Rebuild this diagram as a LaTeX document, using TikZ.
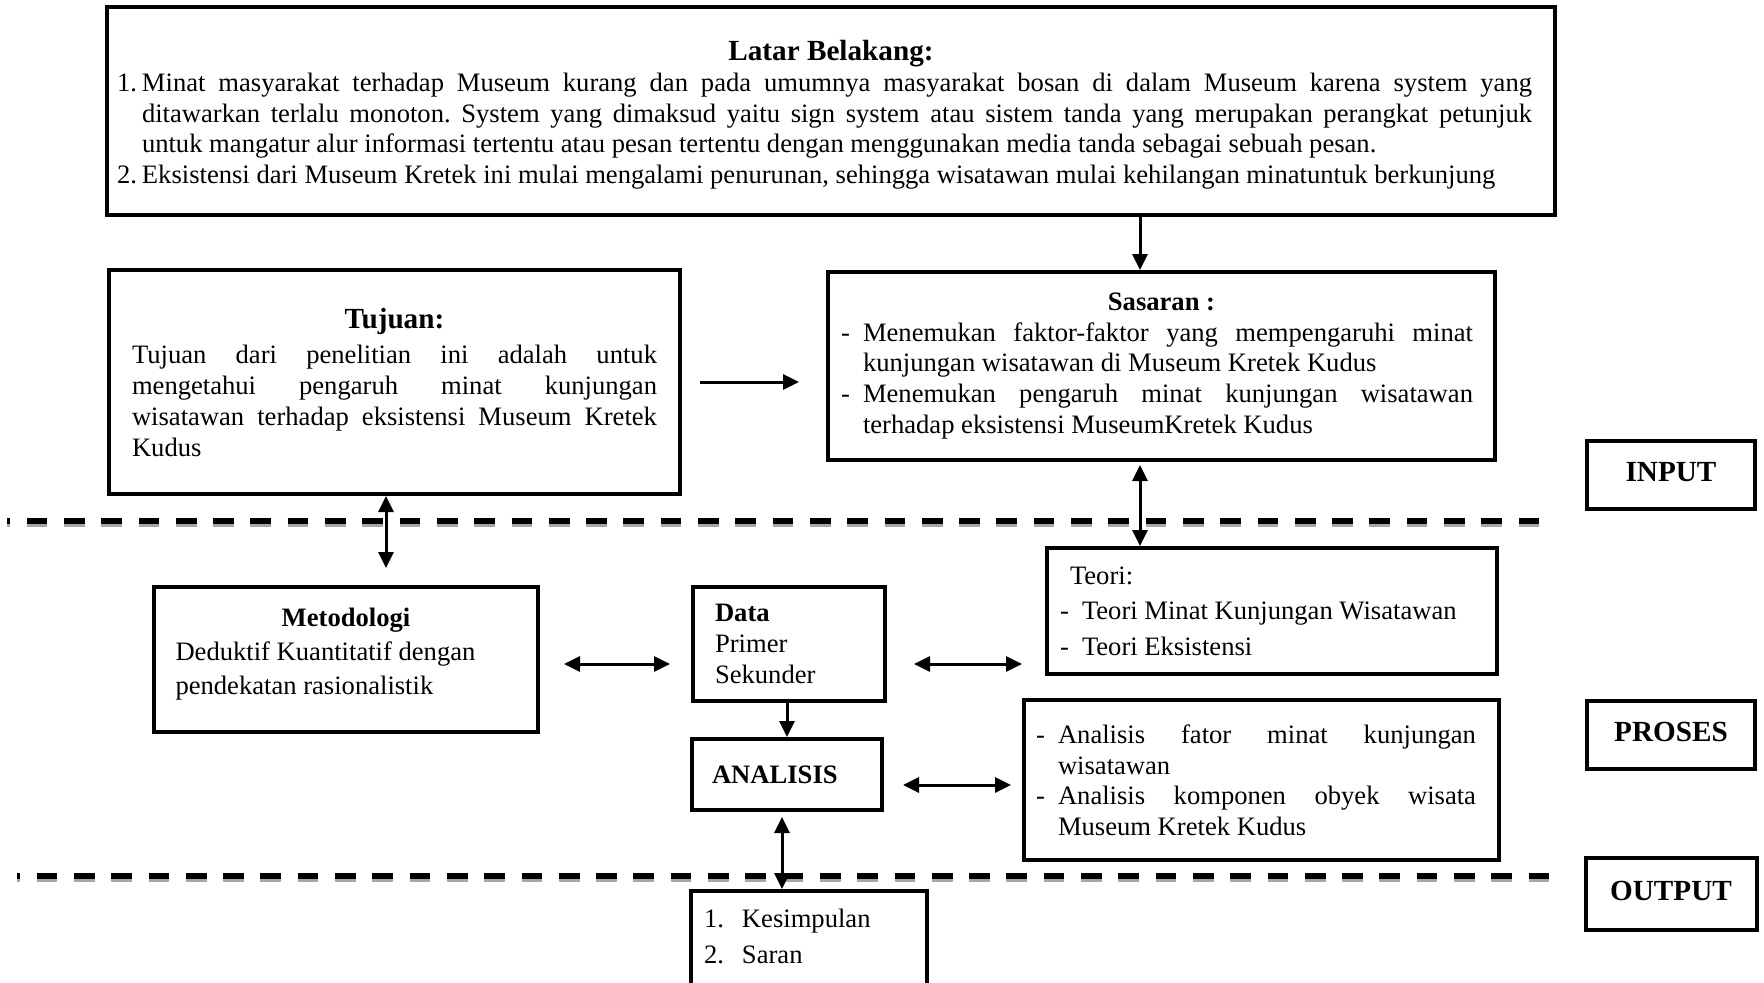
\documentclass[tikz,border=0pt]{standalone}
\usepackage{fontspec}
\setmainfont{Liberation Serif}
\usetikzlibrary{positioning,arrows.meta}

\frenchspacing
\hyphenpenalty=10000
\exhyphenpenalty=10000
\tolerance=9999
\hbadness=10000
\emergencystretch=20pt
\newcommand{\itm}[2]{\par\hangindent=#1\hangafter=1\makebox[#1][l]{#2}\ignorespaces}
\newcommand{\hd}[1]{{\centering\bfseries #1\par}}

\tikzset{
  box/.style={draw, line width=2pt, inner sep=0pt, align=justify, font=\fontsize{13.3pt}{15.35pt}\selectfont},
  tag/.style={draw, line width=2pt, minimum width=84pt, minimum height=34pt, text depth=3pt, font=\bfseries\fontsize{14.6pt}{17pt}\selectfont},
  arr/.style={-{Triangle[length=8pt,width=7.5pt]}, line width=1.5pt},
  dbl/.style={{Triangle[length=8pt,width=7.5pt]}-{Triangle[length=8pt,width=7.5pt]}, line width=1.5pt},
  sep/.style={line width=3pt, dash pattern=on 10.35pt off 8.3pt, dash phase=8.85pt},
  sepshadow/.style={sep, draw=black!35},
}

\begin{document}
\begin{tikzpicture}[x=0.5pt, y=-0.5pt]
  \useasboundingbox (0,0) rectangle (1764,982);
  \clip (0,0) rectangle (1764,982);

  \draw[sepshadow] (7,524.3) -- (1541,524.3);
  \draw[sep] (7,521.3) -- (1541,521.3);
  \draw[sepshadow] (17,878.5) -- (1549,878.5);
  \draw[sep] (17,875.5) -- (1549,875.5);

  \node[box, minimum width=724pt, minimum height=104pt, text width=714pt] (latar) at (831,111) {%
    \rightskip=6.5pt
    {\centering\bfseries\fontsize{14.6pt}{15.35pt}\selectfont Latar Belakang:\par}
    \itm{12.5pt}{1.}Minat masyarakat terhadap Museum kurang dan pada umumnya masyarakat bosan di dalam Museum karena system yang\linebreak
    ditawarkan terlalu monoton. System yang dimaksud yaitu sign system atau sistem tanda yang merupakan perangkat petunjuk\linebreak
    untuk mangatur alur informasi tertentu atau pesan tertentu dengan menggunakan media tanda sebagai sebuah pesan.
    \itm{12.5pt}{2.}Eksistensi dari Museum Kretek ini mulai mengalami penurunan, sehingga wisatawan mulai kehilangan minatuntuk berkunjung\par\kern-4pt};

  \node[box, minimum width=285.5pt, minimum height=112pt, text width=262.5pt] (tujuan) at (394.5,382) {%
    {\centering\bfseries\fontsize{14.6pt}{15.35pt}\selectfont Tujuan:\par}\vspace{2.6pt}
    Tujuan dari penelitian ini adalah untuk\linebreak
    mengetahui pengaruh minat kunjungan\linebreak
    wisatawan terhadap eksistensi Museum Kretek\linebreak
    Kudus\par};

  \node[box, minimum width=333.5pt, minimum height=94pt, text width=320.5pt] (sasaran) at (1161.5,366) {%
    \rightskip=4.5pt
    \hd{Sasaran :}
    \itm{11pt}{-}Menemukan faktor-faktor yang mempengaruhi minat\linebreak
    kunjungan wisatawan di Museum Kretek Kudus
    \itm{11pt}{-}Menemukan pengaruh minat kunjungan wisatawan\linebreak
    terhadap eksistensi MuseumKretek Kudus\par};

  \node[box, minimum width=192pt, minimum height=72.5pt, text width=170.5pt,
        font=\fontsize{13.3pt}{17pt}\selectfont] (metod) at (346,659.5) {%
    \hd{Metodologi}
    Deduktif Kuantitatif dengan\newline
    pendekatan rasionalistik\par\kern5.6pt};

  \node[box, minimum width=96pt, minimum height=57pt, text width=74pt, align=left,
        font=\fontsize{13.3pt}{15.5pt}\selectfont] (data) at (789,644) {\textbf{Data}\\Primer\\Sekunder};

  \node[box, minimum width=225pt, minimum height=63pt, text width=212pt,
        font=\fontsize{13.3pt}{17.7pt}\selectfont] (teori) at (1272,611) {%
    \hspace*{5pt}Teori:
    \itm{11pt}{-}Teori Minat Kunjungan Wisatawan
    \itm{11pt}{-}Teori Eksistensi\par};

  \node[box, minimum width=95pt, minimum height=35.5pt, text width=75pt, align=left,
        font=\bfseries\fontsize{13.3pt}{15.35pt}\selectfont] (analisis) at (787,774.5) {ANALISIS};

  \node[box, minimum width=237.5pt, minimum height=80pt, text width=225.5pt] (faktor) at (1261.5,780) {%
    \rightskip=5.5pt
    \itm{11pt}{-}Analisis fator minat kunjungan\linebreak
    wisatawan
    \itm{11pt}{-}Analisis komponen obyek wisata\linebreak
    Museum Kretek Kudus\par\kern5.6pt};

  \node[box, anchor=north, minimum width=118pt, text width=105pt, inner ysep=0pt,
        font=\fontsize{13.3pt}{18pt}\selectfont] (hasil) at (809,889) {%
    \itm{19pt}{1.}Kesimpulan
    \itm{19pt}{2.}Saran
    \par\kern40pt};

  \node[tag] (input) at (1671,475) {INPUT};
  \node[tag, below=93.8pt of input] (proses) {PROSES};
  \node[tag, minimum width=85.5pt, minimum height=36pt, below=42.7pt of proses] (output) {OUTPUT};

  \coordinate (sx) at ([xshift=-10.75pt]sasaran.north);
  \coordinate (tx) at ([xshift=-4.25pt]tujuan.south);
  \coordinate (my) at ([yshift=-2.25pt]metod.east);
  \coordinate (dy) at ([yshift=-10pt]data.east);
  \coordinate (ay) at ([yshift=-5.25pt]analisis.east);
  \coordinate (ox) at ([xshift=-2.5pt]analisis.south);

  \draw[arr] (sx |- latar.south) -- (sx);
  \draw[arr, shorten <=9pt, shorten >=13.5pt] (tujuan.east) -- (tujuan.east -| sasaran.west);
  \draw[dbl, shorten >=8.5pt] (tx) -- (tx |- metod.north);
  \draw[dbl, shorten <=1.5pt] (sx |- sasaran.south) -- (sx |- teori.north);
  \draw[dbl, shorten <=12pt, shorten >=10.5pt] (my) -- (my -| data.west);
  \draw[dbl, shorten <=13.5pt, shorten >=11.5pt] (dy) -- (dy -| teori.west);
  \draw[arr] (analisis.north |- data.south) -- (analisis.north);
  \draw[dbl, shorten <=9.5pt, shorten >=5.5pt] (ay) -- (ay -| faktor.west);
  \draw[dbl, shorten <=2.5pt] (ox) -- (ox |- hasil.north);
\end{tikzpicture}
\end{document}
